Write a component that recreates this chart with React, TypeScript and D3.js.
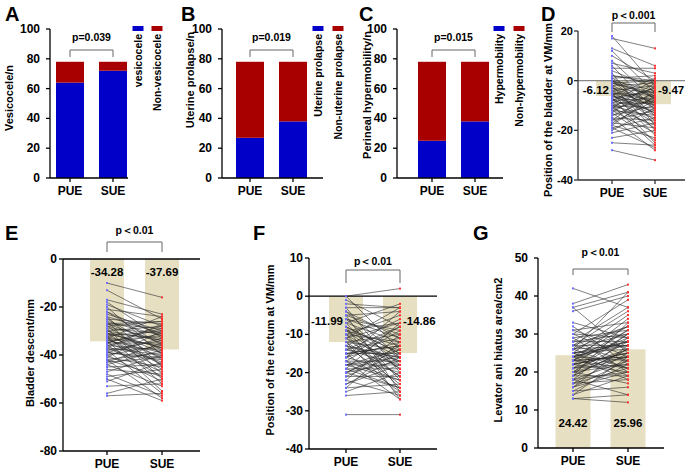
import React from 'react';
import * as d3 from 'd3';

const groups = ['PUE', 'SUE'];

// A-C: counts per group (n = 78)
const vesicocele = [64, 72];
const nonVesicocele = [14, 6];
const uterineProlapse = [27, 38];
const nonUterineProlapse = [51, 40];
const hypermobility = [25, 38];
const nonHypermobility = [53, 40];

// D: position of the bladder at VM (mm)
const dMeans = [-6.12, -9.47];
const dPue = [18, 17, 13, 12, 10, 8, 7, 6, 5, 4, 3, 2, 1, 1, 0, 0, 0, -1, -1, -2, -2, -2, -3, -3, -4, -4, -5, -5, -5, -6, -6, -6, -7, -7, -7, -8, -8, -8, -9, -9, -9, -10, -10, -10, -10, -11, -11, -11, -12, -12, -12, -13, -13, -14, -14, -15, -15, -16, -16, -17, -17, -18, -18, -19, -19, -20, -21, -23, -25, -28, -3, -5, -8, -1, 0, 2, -4, -6];
const dSue = [-2, 13, 6, -5, 0, -8, 3, -12, 5, -3, -18, 0, -7, 2, -10, -4, -14, -6, 0, -9, -20, -1, -11, -5, -16, -2, -8, -22, -6, -13, 1, -10, -17, -4, -25, -7, -12, 0, -19, -9, -3, -15, -26, -6, -11, -1, -18, -8, -21, -5, -14, -2, -24, -10, -7, -16, -28, -4, -12, -19, -8, -23, -6, -15, -27, -11, -17, -20, -26, -32, -9, -13, -3, -5, -7, -1, -10, -14];

// E: bladder descent (mm)
const eMeans = [-34.28, -37.69];
const ePue = [-10, -13, -17, -18, -19, -20, -21, -22, -23, -24, -25, -25, -26, -26, -27, -27, -28, -28, -29, -29, -30, -30, -30, -31, -31, -31, -32, -32, -32, -33, -33, -33, -34, -34, -34, -35, -35, -35, -36, -36, -36, -37, -37, -37, -38, -38, -38, -39, -39, -40, -40, -41, -41, -42, -42, -43, -43, -44, -44, -45, -46, -47, -48, -49, -50, -51, -53, -56, -57, -24, -28, -31, -35, -39, -42, -22, -27, -33];
const eSue = [-16, -25, -23, -33, -28, -40, -24, -36, -30, -45, -27, -38, -32, -48, -29, -35, -42, -26, -31, -50, -34, -39, -28, -44, -33, -37, -52, -30, -41, -36, -24, -46, -39, -32, -55, -35, -29, -43, -38, -49, -31, -40, -27, -47, -34, -56, -37, -42, -33, -51, -36, -30, -45, -39, -58, -41, -35, -53, -38, -44, -48, -40, -57, -46, -59, -43, -52, -50, -56, -31, -34, -37, -28, -41, -49, -32, -26, -44];

// F: position of the rectum at VM (mm)
const fMeans = [-11.99, -14.86];
const fPue = [0, 0, -1, -3, -3, -4, -4, -5, -5, -6, -6, -7, -7, -8, -8, -9, -9, -9, -10, -10, -10, -11, -11, -11, -12, -12, -12, -13, -13, -13, -14, -14, -14, -15, -15, -15, -16, -16, -16, -17, -17, -17, -18, -18, -18, -19, -19, -20, -20, -20, -21, -21, -22, -22, -23, -23, -24, -24, -25, -26, -31, -2, -5, -8, -11, -14, -17, -20, -7, -10, -13, -16, -19, -6, -9, -12, -15, -18];
const fSue = [-14, 2, -8, -20, -3, -16, -11, -25, -4, -18, -9, -22, -2, -15, -27, -7, -13, -19, -5, -24, -12, -17, -3, -21, -10, -26, -14, -6, -16, -23, -11, -18, -8, -13, -25, -15, -4, -20, -12, -17, -27, -9, -16, -22, -14, -19, -7, -24, -13, -17, -15, -21, -10, -26, -16, -18, -12, -23, -20, -25, -31, -3, -10, -15, -7, -16, -22, -14, -12, -19, -17, -8, -24, -11, -16, -21, -13, -18];

// G: levator ani hiatus area (cm2)
const gMeans = [24.42, 25.96];
const gPue = [42, 38, 37, 37, 36, 33, 32, 31, 31, 30, 30, 29, 29, 28, 28, 27, 27, 27, 26, 26, 26, 25, 25, 25, 25, 24, 24, 24, 24, 23, 23, 23, 23, 22, 22, 22, 21, 21, 21, 20, 20, 20, 19, 19, 19, 18, 18, 18, 17, 17, 17, 16, 16, 15, 15, 14, 14, 13, 13, 26, 24, 22, 28, 20, 25, 23, 21, 27, 19, 18, 30, 16, 24, 22, 25, 20, 26, 23];
const gSue = [37, 43, 25, 41, 40, 29, 22, 33, 26, 39, 24, 31, 20, 37, 28, 23, 32, 27, 41, 21, 30, 26, 19, 35, 28, 23, 32, 18, 27, 24, 29, 21, 34, 25, 20, 31, 26, 22, 30, 17, 28, 24, 33, 19, 26, 23, 29, 14, 21, 25, 18, 27, 20, 22, 16, 24, 19, 12, 14, 32, 28, 25, 30, 22, 27, 31, 24, 36, 26, 20, 29, 23, 28, 25, 21, 30, 27, 24];

const FONT = '"Liberation Sans", Arial, Helvetica, sans-serif';
const BLUE = '#0000c8';
const RED = '#a80000';
const BEIGE = '#e6dfc2';

type Scale = d3.ScaleLinear<number, number>;

const YAxis = ({ x, y, ticks, color = '#000', fontSize = 11.5, gap = 8 }: { x: number; y: Scale; ticks: number[]; color?: string; fontSize?: number; gap?: number }) => {
  const [r0, r1] = y.range();
  return (
    <g>
      <line x1={x} x2={x} y1={Math.min(r0, r1)} y2={Math.max(r0, r1)} stroke={color} strokeWidth={1.3} />
      {ticks.map(t => (
        <g key={t}>
          <line x1={x - 4} x2={x} y1={y(t)} y2={y(t)} stroke={color} strokeWidth={1.3} />
          <text x={x - gap} y={y(t)} textAnchor="end" dominantBaseline="central" fontSize={fontSize} fontWeight="bold">
            {t}
          </text>
        </g>
      ))}
    </g>
  );
};

const XAxis = ({ x0, x1, y, xs, color = '#000' }: { x0: number; x1: number; y: number; xs: d3.ScalePoint<string>; color?: string }) => (
  <g>
    <line x1={x0} x2={x1} y1={y} y2={y} stroke={color} strokeWidth={1.3} />
    {groups.map(g => (
      <g key={g}>
        <line x1={xs(g)} x2={xs(g)} y1={y} y2={y + 4} stroke={color} strokeWidth={1.3} />
        <text x={xs(g)} y={y + 13} textAnchor="middle" dominantBaseline="central" fontSize={12} fontWeight="bold">
          {g}
        </text>
      </g>
    ))}
  </g>
);

const Bracket = ({ xs, top, drop, label, labelY }: { xs: d3.ScalePoint<string>; top: number; drop: number; label: string; labelY: number }) => {
  const a = xs('PUE')!;
  const b = xs('SUE')!;
  return (
    <g>
      <path d={`M${a},${drop}V${top}H${b}V${drop}`} fill="none" stroke="#666" strokeWidth={1} />
      <text x={(a + b) / 2} y={labelY} textAnchor="middle" dominantBaseline="central" fontSize={10.5} fontWeight="bold">
        {label}
      </text>
    </g>
  );
};

interface StackProps {
  letter: string;
  letterX: number;
  axisX: number;
  axisEnd: number;
  centers: [number, number];
  lower: number[];
  upper: number[];
  title: string;
  titleX: number;
  titleY: number;
  pLabel: string;
  legend: [string, string];
  legendX: [number, number];
}

const StackPanel = (p: StackProps) => {
  const y = d3.scaleLinear().domain([0, 100]).range([178, 29]);
  const xs = d3.scalePoint<string>().domain(groups).range(p.centers);
  const bw = 28;
  return (
    <g>
      <text x={p.letterX} y={21} fontSize={20} fontWeight="bold">{p.letter}</text>
      <text transform={`translate(${p.titleX},${p.titleY}) rotate(-90)`} textAnchor="middle" dominantBaseline="central" fontSize={11} fontWeight="bold">
        {p.title}
      </text>
      {groups.map((g, i) => (
        <g key={g}>
          <rect x={xs(g)! - bw / 2} width={bw} y={y(p.lower[i])} height={y(0) - y(p.lower[i])} fill={BLUE} />
          <rect x={xs(g)! - bw / 2} width={bw} y={y(p.lower[i] + p.upper[i])} height={y(p.lower[i]) - y(p.lower[i] + p.upper[i])} fill={RED} />
        </g>
      ))}
      <YAxis x={p.axisX} y={y} ticks={[0, 20, 40, 60, 80, 100]} gap={10} fontSize={12} />
      <XAxis x0={p.axisX} x1={p.axisEnd} y={y(0)} xs={xs} />
      <Bracket xs={xs} top={50} drop={57} label={p.pLabel} labelY={37} />
      {[BLUE, RED].map((c, i) => (
        <g key={c}>
          <rect x={p.legendX[i] - 5.5} y={26} width={11} height={5} fill={c} />
          <text transform={`translate(${p.legendX[i]},34) rotate(-90)`} textAnchor="end" dominantBaseline="central" fontSize={10.5} fontWeight="bold">
            {p.legend[i]}
          </text>
        </g>
      ))}
    </g>
  );
};

interface PairProps {
  letter: string;
  letterX: number;
  letterY: number;
  axisX: number;
  axisEnd: number;
  domain: [number, number];
  range: [number, number];
  ticks: number[];
  tickFont: number;
  tickGap: number;
  centers: [number, number];
  barW: number;
  means: number[];
  pue: number[];
  sue: number[];
  zeroColor: string;
  axisColor: string;
  title: string;
  titleX: number;
  titleY: number;
  pLabel: string;
  bracket: [number, number, number];
  meanMode: 'top' | 'sides' | 'bottom';
  meanDy: number;
}

const PairPanel = (p: PairProps) => {
  const y = d3.scaleLinear().domain(p.domain).range(p.range);
  const xs = d3.scalePoint<string>().domain(groups).range(p.centers);
  const a = xs('PUE')!;
  const b = xs('SUE')!;
  const bottom = y(p.domain[0]);
  const hasZero = p.domain[0] < 0 && p.domain[1] >= 0;
  const base = hasZero ? y(0) : bottom;
  const meanY = p.meanMode === 'bottom' ? bottom - p.meanDy : base + p.meanDy;
  return (
    <g>
      <text x={p.letterX} y={p.letterY} fontSize={20} fontWeight="bold">{p.letter}</text>
      {groups.map((g, i) => {
        const v = y(p.means[i]);
        return <rect key={g} x={xs(g)! - p.barW / 2} width={p.barW} y={Math.min(v, base)} height={Math.abs(v - base)} fill={BEIGE} />;
      })}
      {hasZero && <line x1={p.axisX} x2={p.axisEnd} y1={y(0)} y2={y(0)} stroke={p.zeroColor} strokeWidth={1.3} />}
      {p.pue.map((v, i) => (
        <line key={i} x1={a} x2={b} y1={y(v)} y2={y(p.sue[i])} stroke="#2a2a2a" strokeWidth={0.6} />
      ))}
      {p.pue.map((v, i) => (
        <rect key={'p' + i} x={a - 1} y={y(v) - 1} width={2} height={2} fill="#6e6eff" />
      ))}
      {p.sue.map((v, i) => (
        <rect key={'s' + i} x={b - 1} y={y(v) - 1} width={2} height={2} fill="#ff3030" />
      ))}
      {groups.map((g, i) => {
        const label = p.means[i].toFixed(2);
        if (p.meanMode === 'sides') {
          return i === 0 ? (
            <text key={g} x={a - 3} y={meanY} textAnchor="end" dominantBaseline="central" fontSize={11.5} fontWeight="bold">{label}</text>
          ) : (
            <text key={g} x={b + 3} y={meanY} textAnchor="start" dominantBaseline="central" fontSize={11.5} fontWeight="bold">{label}</text>
          );
        }
        return (
          <text key={g} x={xs(g)} y={meanY} textAnchor="middle" dominantBaseline="central" fontSize={11.5} fontWeight="bold">{label}</text>
        );
      })}
      <YAxis x={p.axisX} y={y} ticks={p.ticks} color={p.axisColor} fontSize={p.tickFont} gap={p.tickGap} />
      <XAxis x0={p.axisX} x1={p.axisEnd} y={bottom} xs={xs} color={p.axisColor} />
      <Bracket xs={xs} top={p.bracket[0]} drop={p.bracket[1]} label={p.pLabel} labelY={p.bracket[2]} />
      <text transform={`translate(${p.titleX},${p.titleY}) rotate(-90)`} textAnchor="middle" dominantBaseline="central" fontSize={11} fontWeight="bold">
        {p.title}
      </text>
    </g>
  );
};

export default function App() {
  return (
    <svg width={688} height={472} style={{ position: 'absolute', left: 0, top: 0, background: '#fff' }} fontFamily={FONT}>
      <rect width={688} height={472} fill="#fff" />
      <StackPanel letter="A" letterX={5} axisX={50} axisEnd={128} centers={[70, 113]} lower={vesicocele} upper={nonVesicocele}
        title="Vesicocele/n" titleX={9} titleY={98} pLabel="p=0.039" legend={['vesicocele', 'Non-vesicocele']} legendX={[138, 157]} />
      <StackPanel letter="B" letterX={181} axisX={222} axisEnd={323} centers={[250, 293]} lower={uterineProlapse} upper={nonUterineProlapse}
        title="Uterine prolapse/n" titleX={190} titleY={80} pLabel="p=0.019" legend={['Uterine prolapse', 'Non-uterine prolapse']} legendX={[318, 338]} />
      <StackPanel letter="C" letterX={359} axisX={397} axisEnd={503} centers={[432, 475]} lower={hypermobility} upper={nonHypermobility}
        title="Perineal hypermobility/n" titleX={367} titleY={95} pLabel="p=0.015" legend={['Hypermobility', 'Non-hypermobility']} legendX={[499, 519]} />
      <PairPanel letter="D" letterX={541} letterY={21} axisX={578} axisEnd={685} domain={[-40, 20]} range={[180, 31]} ticks={[20, 0, -20, -40]}
        tickFont={11} tickGap={5}
        centers={[612, 655]} barW={32} means={dMeans} pue={dPue} sue={dSue} zeroColor="#888" axisColor="#333"
        title="Position of the bladder at VM/mm" titleX={548} titleY={110} pLabel="p＜0.001" bracket={[23, 32, 15]} meanMode="sides" meanDy={9} />
      <PairPanel letter="E" letterX={5} letterY={240} axisX={63} axisEnd={200} domain={[-80, 0]} range={[451, 259]} ticks={[0, -20, -40, -60, -80]}
        tickFont={12} tickGap={6}
        centers={[107, 162]} barW={34} means={eMeans} pue={ePue} sue={eSue} zeroColor="#000" axisColor="#000"
        title="Bladder descent/mm" titleX={30} titleY={353} pLabel="p＜0.01" bracket={[242, 252, 230]} meanMode="top" meanDy={13} />
      <PairPanel letter="F" letterX={253} letterY={240} axisX={309} axisEnd={437} domain={[-40, 10]} range={[449, 258]} ticks={[10, 0, -10, -20, -30, -40]}
        tickFont={12} tickGap={6}
        centers={[346, 400]} barW={34} means={fMeans} pue={fPue} sue={fSue} zeroColor="#000" axisColor="#000"
        title="Position of the rectum at VM/mm" titleX={270} titleY={350} pLabel="p＜0.01" bracket={[270, 283, 261]} meanMode="sides" meanDy={25} />
      <PairPanel letter="G" letterX={473} letterY={240} axisX={538} axisEnd={664} domain={[0, 50]} range={[448, 258]} ticks={[0, 10, 20, 30, 40, 50]}
        tickFont={12} tickGap={10}
        centers={[573, 628]} barW={35} means={gMeans} pue={gPue} sue={gSue} zeroColor="#000" axisColor="#000"
        title="Levator ani hiatus area/cm2" titleX={498} titleY={350} pLabel="p＜0.01" bracket={[269, 275, 252]} meanMode="bottom" meanDy={25} />
    </svg>
  );
}
